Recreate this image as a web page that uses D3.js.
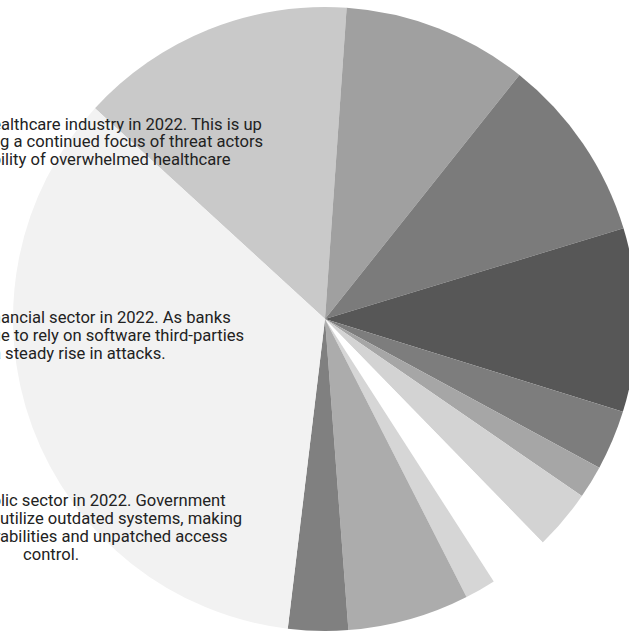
<!DOCTYPE html>
<html>
<head>
<meta charset="utf-8">
<script src="https://cdn.jsdelivr.net/npm/d3@7"></script>
<style>
  html, body { margin: 0; padding: 0; background: #ffffff; overflow: hidden; }
  svg { display: block; }
  text { font-family: Roboto, "Noto Sans", sans-serif; white-space: pre; }
</style>
</head>
<body>
<svg id="chart" width="629" height="633"></svg>
<script>
// ---- data ----
const categories = ["Healthcare", "Manufacturing", "Education", "Technology", "Retail", "Energy",
                    "Transportation", "Other", "Hospitality", "Finance", "Media", "Public sector"];
const shares = [14.3, 9.6, 9.6, 9.5, 3.1, 1.7, 3.1, 3.2, 1.6, 6.3, 3.1, 34.9];
const sliceColors = ["#c9c9c9", "#a0a0a0", "#7b7b7b", "#575757", "#7d7d7d", "#a6a6a6",
                     "#d3d3d3", "#ffffff", "#d6d6d6", "#acacac", "#808080", "#f2f2f2"];

// annotation lines: hidden prefix (off-canvas) + visible part, with where the visible part starts
const notes = [
  { pre: "An estimated 14% of attacks targeted the he", vis: "althcare industry in 2022. This is up", x0: 1, y: 129.5 },
  { pre: "from the previous year, showin", vis: "g a continued focus of threat actors", x0: 0, y: 147.3 },
  { pre: "on exploiting the vulnerab", vis: "ility of overwhelmed healthcare", x0: 1, y: 165 },
  { pre: "About 6% of attacks targeted the fin", vis: "ancial sector in 2022. As banks", x0: 1, y: 323.3 },
  { pre: "and institutions continu", vis: "e to rely on software third-parties", x0: 1, y: 341.2 },
  { pre: "they have seen a", vis: " steady rise in attacks.", x0: 1, y: 359 },
  { pre: "Roughly 35% of attacks targeted the pub", vis: "lic sector in 2022. Government", x0: 1, y: 506 },
  { pre: "agencies often still", vis: " utilize outdated systems, making", x0: -4, y: 524 },
  { pre: "them prone to vulner", vis: "abilities and unpatched access", x0: 0, y: 542 },
  { pre: "", vis: "control.", x0: 23, y: 560 }
];

// ---- drawing ----
const svg = d3.select("#chart");
const cx = 325, cy = 319, radius = 312;
const start = -47.5 * Math.PI / 180;

const pie = d3.pie().sort(null).value(d => d)
  .startAngle(start).endAngle(start + 2 * Math.PI);
const arc = d3.arc().innerRadius(0).outerRadius(radius);

const g = svg.append("g").attr("transform", `translate(${cx},${cy})`);
g.selectAll("path")
  .data(pie(shares))
  .join("path")
  .attr("d", arc)
  .attr("fill", (d, i) => sliceColors[i])
  .append("title").text((d, i) => `${categories[i]}: ${shares[i]}%`);

const tg = svg.append("g").attr("class", "notes");
notes.forEach(n => {
  const t = tg.append("text")
    .attr("y", n.y)
    .attr("font-size", 16.6)
    .attr("fill", "#222");
  const p = t.append("tspan").text(n.pre);
  t.append("tspan").text(n.vis);
  const w = n.pre ? p.node().getComputedTextLength() : 0;
  t.attr("x", n.x0 - w);
});
</script>
</body>
</html>
